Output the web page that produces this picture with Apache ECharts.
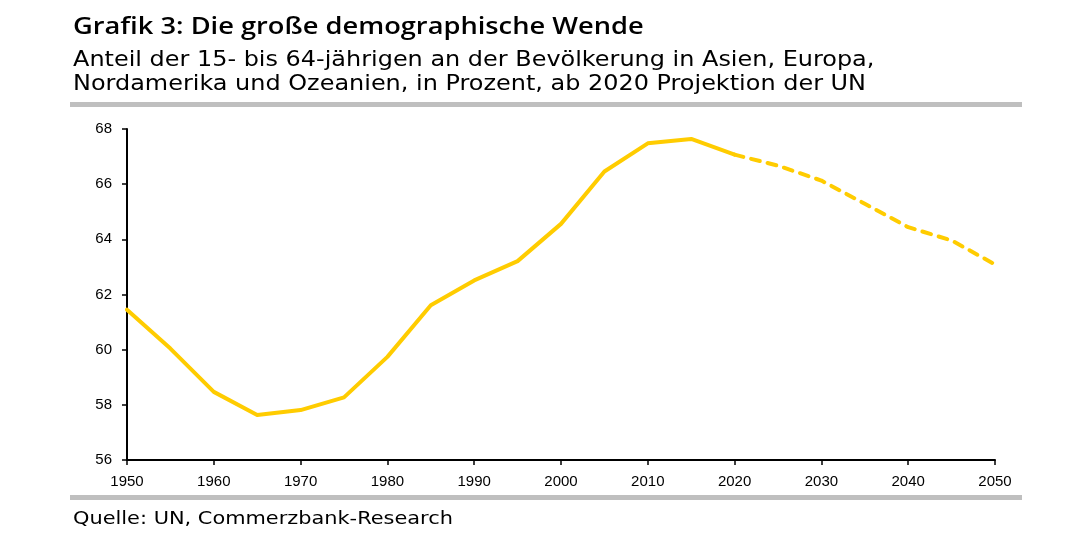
<!DOCTYPE html>
<html><head><meta charset="utf-8">
<script src="https://cdn.jsdelivr.net/npm/echarts@6/dist/echarts.min.js"></script>
<style>html,body{margin:0;padding:0;background:#fff}#c{width:1070px;height:546px}</style>
</head><body><div id="c"></div>
<script>
const years = [1950,1955,1960,1965,1970,1975,1980,1985,1990,1995,2000,2005,2010,2015,2020,2025,2030,2035,2040,2045,2050];
const values = [61.45,60.04,58.47,57.63,57.81,58.27,59.74,61.61,62.51,63.21,64.56,66.46,67.48,67.64,67.07,66.67,66.13,65.29,64.44,63.96,63.09];
const projectionStart = 2020;
const xTicks = [1950,1960,1970,1980,1990,2000,2010,2020,2030,2040,2050];
const yTicks = [56,58,60,62,64,66,68];
const titleText = 'Grafik 3: Die große demographische Wende';
const subtitleLines = ['Anteil der 15- bis 64-jährigen an der Bevölkerung in Asien, Europa,','Nordamerika und Ozeanien, in Prozent, ab 2020 Projektion der UN'];
const sourceText = 'Quelle: UN, Commerzbank-Research';

const hist = [], proj = [];
years.forEach((y,i)=>{ if(y<=projectionStart) hist.push([y,values[i]]); if(y>=projectionStart) proj.push([y,values[i]]); });

const chart = echarts.init(document.getElementById('c'), null, {renderer:'canvas'});
const font = '"DejaVu Sans", "Open Sans", sans-serif';
const titleFont = '"Open Sans", "DejaVu Sans", sans-serif';
const axisFont = '"Liberation Sans", Arial, sans-serif';
function txt(t, x, y, f, sx){
  return {type:'text', x:x, y:y, scaleX:sx, scaleY:1, originX:0, originY:0,
    style:{text:t, font:f, fill:'#000', textVerticalAlign:'top', verticalAlign:'top', align:'left'}};
}
chart.setOption({
  animation:false,
  backgroundColor:'#fff',
  grid:{left:127,right:75,top:129,bottom:86},
  xAxis:{type:'value',min:1950,max:2050,interval:10,
    axisLine:{lineStyle:{color:'#000',width:2}},
    axisTick:{length:5,lineStyle:{color:'#000',width:1.5}},
    axisLabel:{color:'#000',fontFamily:axisFont,fontSize:15,margin:14,formatter:v=>String(v)},
    splitLine:{show:false}},
  yAxis:{type:'value',min:yTicks[0],max:yTicks[yTicks.length-1],interval:2,
    axisLine:{show:true,lineStyle:{color:'#000',width:2}},
    axisTick:{show:true,length:5,lineStyle:{color:'#000',width:1.5}},
    axisLabel:{color:'#000',fontFamily:axisFont,fontSize:15,margin:15},
    splitLine:{show:false}},
  graphic:[
    txt(titleText, 73, 15.5, '600 23px '+titleFont, 1.185),
    txt(subtitleLines[0], 73, 50.5, '400 21px '+font, 1.14),
    txt(subtitleLines[1], 73, 74, '400 21px '+font, 1.14),
    {type:'rect',shape:{x:70,y:102,width:952,height:5},style:{fill:'#bfbfbf'}},
    {type:'rect',shape:{x:70,y:495,width:952,height:5},style:{fill:'#bfbfbf'}},
    txt(sourceText, 73, 510, '400 18px '+font, 1.16)
  ],
  series:[
    {type:'line',data:hist,showSymbol:false,lineStyle:{color:'#FFCC00',width:4,cap:'round',join:'round'}},
    {type:'line',data:proj,showSymbol:false,lineStyle:{color:'#FFCC00',width:4,type:[9,8],cap:'round',join:'round'}}
  ]
});
</script></body></html>
